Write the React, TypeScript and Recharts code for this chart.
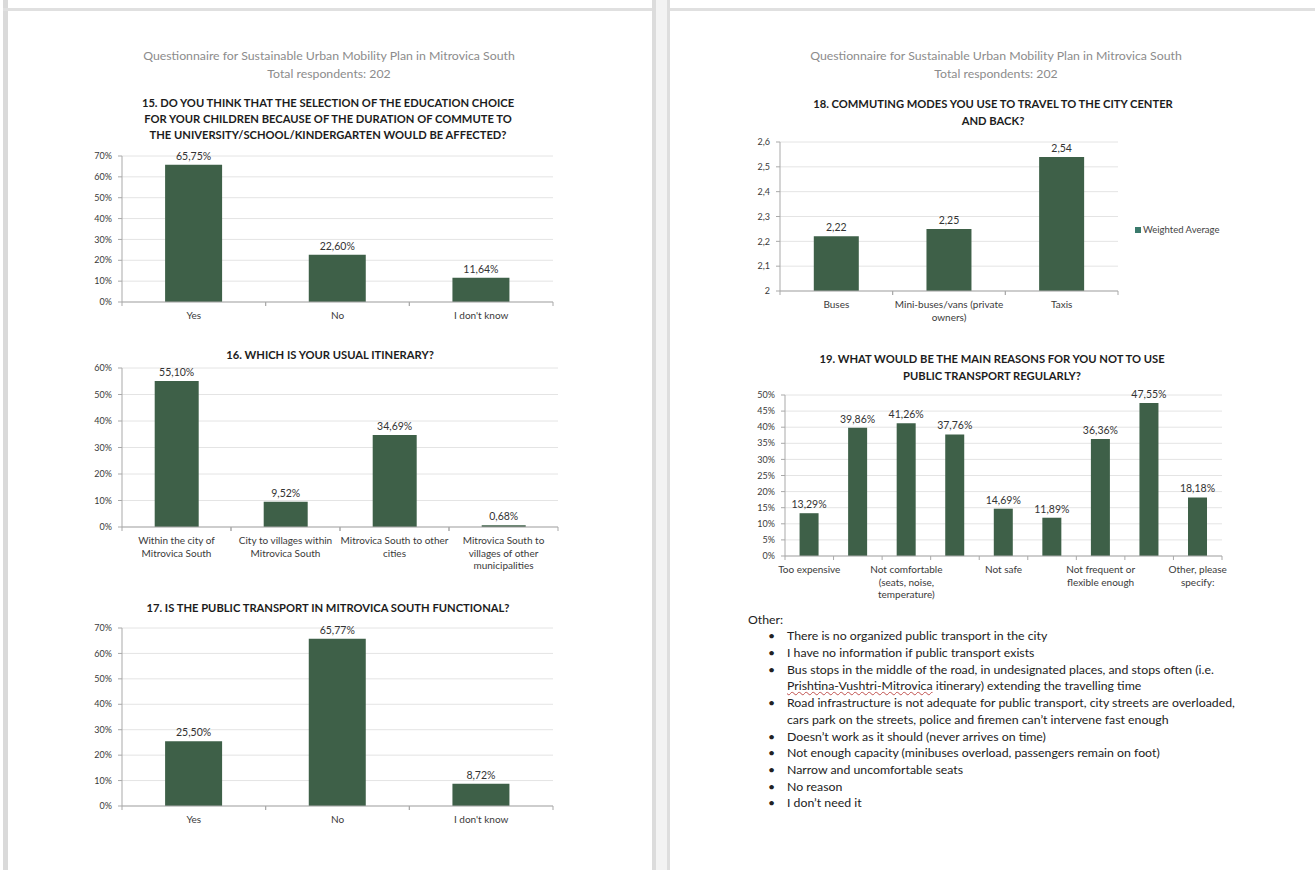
import React from 'react';
import { BarChart, Bar, XAxis, YAxis, CartesianGrid, LabelList, Legend } from 'recharts';

// ---------- DATA ----------
const headerLine1 = 'Questionnaire for Sustainable Urban Mobility Plan in Mitrovica South';
const headerLine2 = 'Total respondents: 202';

const q15Title = [
  '15. DO YOU THINK THAT THE SELECTION OF THE EDUCATION CHOICE',
  'FOR YOUR CHILDREN BECAUSE OF THE DURATION OF COMMUTE TO',
  'THE UNIVERSITY/SCHOOL/KINDERGARTEN WOULD BE AFFECTED?',
];
const q15Categories = ['Yes', 'No', "I don't know"];
const q15Values = [65.75, 22.6, 11.64];

const q16Title = ['16. WHICH IS YOUR USUAL ITINERARY?'];
const q16Categories = [
  'Within the city of\nMitrovica South',
  'City to villages within\nMitrovica South',
  'Mitrovica South to other\ncities',
  'Mitrovica South to\nvillages of other\nmunicipalities',
];
const q16Values = [55.1, 9.52, 34.69, 0.68];

const q17Title = ['17. IS THE PUBLIC TRANSPORT IN MITROVICA SOUTH FUNCTIONAL?'];
const q17Categories = ['Yes', 'No', "I don't know"];
const q17Values = [25.5, 65.77, 8.72];

const q18Title = ['18. COMMUTING MODES YOU USE TO TRAVEL TO THE CITY CENTER', 'AND BACK?'];
const q18Categories = ['Buses', 'Mini-buses/vans (private\nowners)', 'Taxis'];
const q18Values = [2.22, 2.25, 2.54];
const q18SeriesName = 'Weighted Average';

const q19Title = ['19. WHAT WOULD BE THE MAIN REASONS FOR YOU NOT TO USE', 'PUBLIC TRANSPORT REGULARLY?'];
const q19Categories = [
  'Too expensive',
  'Too slow',
  'Not comfortable\n(seats, noise,\ntemperature)',
  'Not reliable',
  'Not safe',
  'Not accessible',
  'Not frequent or\nflexible enough',
  'Too crowded',
  'Other, please\nspecify:',
];
const q19Values = [13.29, 39.86, 41.26, 37.76, 14.69, 11.89, 36.36, 47.55, 18.18];

const ticks0to70 = [0, 10, 20, 30, 40, 50, 60, 70];
const ticks0to60 = [0, 10, 20, 30, 40, 50, 60];
const ticks2to26 = [2, 2.1, 2.2, 2.3, 2.4, 2.5, 2.6];
const ticks0to50 = [0, 5, 10, 15, 20, 25, 30, 35, 40, 45, 50];

const otherLabel = 'Other:';
const otherItems: string[][] = [
  ['There is no organized public transport in the city'],
  ['I have no information if public transport exists'],
  [
    'Bus stops in the middle of the road, in undesignated places, and stops often (i.e.',
    'Prishtina-Vushtri-Mitrovica itinerary) extending the travelling time',
  ],
  [
    'Road infrastructure is not adequate for public transport, city streets are overloaded,',
    'cars park on the streets, police and firemen can\u2019t intervene fast enough',
  ],
  ['Doesn\u2019t work as it should (never arrives on time)'],
  ['Not enough capacity (minibuses overload, passengers remain on foot)'],
  ['Narrow and uncomfortable seats'],
  ['No reason'],
  ['I don\u2019t need it'],
];

// ---------- STYLE ----------
const FONT = 'Lato, "Open Sans", sans-serif';
const BAR = '#3e6048';
const AXIS = '#a9a9a9';
const GRID = '#e4e4e4';
const TICK_FILL = '#3a3a3a';

const pctTick = (v: number) => `${v}%`;
const pctLabel = (v: number) => `${v.toFixed(2).replace('.', ',')}%`;
const decTick = (v: number) => (Number.isInteger(v) ? String(v) : v.toFixed(1).replace('.', ','));
const decLabel = (v: number) => v.toFixed(2).replace('.', ',');

const build = (cats: string[], vals: number[]) => cats.map((name, i) => ({ name, value: vals[i] }));

type ChartProps = {
  cats: string[];
  vals: number[];
  x0: number;
  x1: number;
  y0: number;
  y1: number;
  domain: [number, number];
  ticks: number[];
  fmtTick: (v: number) => string;
  fmtLabel: (v: number) => string;
  interval?: number;
  mr?: number;
  legend?: { name: string; left: number; top: number };
};

function SurveyBar(p: ChartProps) {
  const YW = 50;
  const MT = 20;
  const XH = 50;
  const MR = p.mr ?? 8;
  const left = p.x0 - YW;
  const top = p.y0 - MT;
  const width = p.x1 + MR - left;
  const height = p.y1 - top + XH;
  const band = (p.x1 - p.x0) / p.cats.length;
  const data = build(p.cats, p.vals);

  const Tick = (props: any) => {
    const { x, y, payload } = props;
    const lines = String(payload.value).split('\n');
    return (
      <g>
        <line x1={x - band / 2} x2={x - band / 2} y1={y} y2={y + 4} stroke={AXIS} />
        <line x1={x + band / 2} x2={x + band / 2} y1={y} y2={y + 4} stroke={AXIS} />
        <text x={x} y={y + 17} textAnchor="middle" fontSize={10} fill={TICK_FILL} fontFamily={FONT}>
          {lines.map((l, i) => (
            <tspan key={i} x={x} dy={i === 0 ? 0 : 12.5}>
              {l}
            </tspan>
          ))}
        </text>
      </g>
    );
  };

  return (
    <div style={{ position: 'absolute', left, top }}>
      <BarChart
        width={width}
        height={height}
        data={data}
        margin={{ top: MT, right: MR, left: 0, bottom: 0 }}
        barCategoryGap="30%"
      >
        <CartesianGrid vertical={false} stroke={GRID} />
        <XAxis
          dataKey="name"
          type="category"
          height={XH}
          interval={p.interval ?? 0}
          tickLine={false}
          tickSize={0}
          tickMargin={0}
          axisLine={{ stroke: AXIS }}
          tick={<Tick />}
        />
        <YAxis
          width={YW}
          type="number"
          domain={p.domain}
          ticks={p.ticks}
          interval={0}
          tickFormatter={p.fmtTick}
          tickSize={4}
          tickMargin={6}
          axisLine={{ stroke: AXIS }}
          tickLine={{ stroke: AXIS }}
          tick={{ fontSize: 9, fill: TICK_FILL, fontFamily: FONT }}
        />
        {p.legend && (
          <Legend
            layout="vertical"
            align="center"
            verticalAlign="middle"
            wrapperStyle={{ left: p.legend.left, top: p.legend.top, width: 'auto' }}
            content={() => (
              <div style={{ display: 'flex', alignItems: 'center', fontFamily: FONT, fontSize: 9.5, color: '#444' }}>
                <span style={{ display: 'inline-block', width: 6, height: 6, background: '#3a7a6c', marginRight: 2 }} />
                <span>{p.legend!.name}</span>
              </div>
            )}
          />
        )}
        <Bar dataKey="value" name={p.legend?.name ?? 'value'} fill={BAR} isAnimationActive={false}>
          <LabelList
            dataKey="value"
            position="top"
            offset={5}
            formatter={(v: any) => p.fmtLabel(Number(v))}
            style={{ fontSize: 10.5, fill: '#333', fontFamily: FONT }}
          />
        </Bar>
      </BarChart>
    </div>
  );
}

function CenterText({ lines, cx, firstCenter, lh, size, weight, color, ls }: any) {
  return (
    <div
      style={{
        position: 'absolute',
        left: cx - 300,
        width: 600,
        top: firstCenter - lh / 2,
        textAlign: 'center',
        fontFamily: FONT,
        fontSize: size,
        fontWeight: weight,
        color,
        lineHeight: `${lh}px`,
        letterSpacing: ls ?? 0,
        whiteSpace: 'nowrap',
      }}
    >
      {lines.map((l: string, i: number) => (
        <div key={i}>{l}</div>
      ))}
    </div>
  );
}

export default function App() {
  const LCX = 329;
  const RCX = 994;
  const titleProps = { size: 11.2, weight: 700, color: '#1c1c1c', ls: 0 };
  const headProps = { size: 12.3, weight: 400, color: '#8c8c8c', lh: 18 };

  // bullet list lines
  const FS = 12.3;
  const listTop = 620 - 8.35;
  const LH = 16.7;
  let row = 1;
  const listRows: React.ReactNode[] = [];
  otherItems.forEach((item, k) => {
    item.forEach((line, j) => {
      const t = listTop + row * LH;
      listRows.push(
        <React.Fragment key={`${k}-${j}`}>
          {j === 0 && (
            <div style={{ position: 'absolute', left: 768, top: t, lineHeight: `${LH}px`, fontSize: FS }}>{'\u2022'}</div>
          )}
          <div style={{ position: 'absolute', left: 787, top: t, lineHeight: `${LH}px`, fontSize: FS, whiteSpace: 'nowrap' }}>
            {line.startsWith('Prishtina-Vushtri-Mitrovica') ? (
              <>
                <span style={{ textDecoration: 'underline wavy #c0504d', textDecorationThickness: 1 }}>
                  Prishtina-Vushtri-Mitrovica
                </span>
                {line.slice('Prishtina-Vushtri-Mitrovica'.length)}
              </>
            ) : (
              line
            )}
          </div>
        </React.Fragment>
      );
      row++;
    });
  });

  return (
    <div
      style={{
        position: 'absolute',
        left: 0,
        top: 0,
        width: 1315,
        height: 870,
        background: '#ffffff',
        overflow: 'hidden',
        fontFamily: FONT,
        color: '#222',
      }}
    >
      {/* page frames */}
      <div style={{ position: 'absolute', left: 3, top: 0, width: 5, height: 870, background: '#dadada' }} />
      <div style={{ position: 'absolute', left: 3, top: 8, width: 650, height: 3, background: '#e0e0e0' }} />
      <div style={{ position: 'absolute', left: 652, top: 0, width: 4, height: 870, background: '#dcdcdc' }} />
      <div style={{ position: 'absolute', left: 656, top: 0, width: 11, height: 870, background: '#f3f3f3' }} />
      <div style={{ position: 'absolute', left: 667, top: 0, width: 3, height: 870, background: '#dedede' }} />
      <div style={{ position: 'absolute', left: 670, top: 8, width: 645, height: 3, background: '#e0e0e0' }} />

      {/* left page */}
      <CenterText lines={[headerLine1, headerLine2]} cx={LCX} firstCenter={56} {...headProps} />
      <CenterText lines={q15Title} cx={328} firstCenter={103} lh={16.3} {...titleProps} />
      <SurveyBar
        cats={q15Categories}
        vals={q15Values}
        x0={122}
        x1={553}
        y0={156}
        y1={302}
        domain={[0, 70]}
        ticks={ticks0to70}
        fmtTick={pctTick}
        fmtLabel={pctLabel}
      />

      <CenterText lines={q16Title} cx={330} firstCenter={354} lh={17} {...titleProps} />
      <SurveyBar
        cats={q16Categories}
        vals={q16Values}
        x0={122}
        x1={558}
        y0={368}
        y1={527}
        domain={[0, 60]}
        ticks={ticks0to60}
        fmtTick={pctTick}
        fmtLabel={pctLabel}
      />

      <CenterText lines={q17Title} cx={328} firstCenter={607} lh={17} {...titleProps} />
      <SurveyBar
        cats={q17Categories}
        vals={q17Values}
        x0={122}
        x1={553}
        y0={628}
        y1={806}
        domain={[0, 70]}
        ticks={ticks0to70}
        fmtTick={pctTick}
        fmtLabel={pctLabel}
      />

      {/* right page */}
      <CenterText lines={[headerLine1, headerLine2]} cx={RCX + 2} firstCenter={56} {...headProps} />
      <CenterText lines={q18Title} cx={993} firstCenter={103} lh={17} {...titleProps} />
      <SurveyBar
        cats={q18Categories}
        vals={q18Values}
        x0={780}
        x1={1118}
        y0={142}
        y1={291}
        domain={[2, 2.6]}
        ticks={ticks2to26}
        fmtTick={decTick}
        fmtLabel={decLabel}
        mr={120}
        legend={{ name: q18SeriesName, left: 1135 - 730, top: 224 - 122 }}
      />

      <CenterText lines={q19Title} cx={992} firstCenter={358} lh={17} {...titleProps} />
      <SurveyBar
        cats={q19Categories}
        vals={q19Values}
        x0={785}
        x1={1222}
        y0={395}
        y1={556}
        domain={[0, 50]}
        ticks={ticks0to50}
        fmtTick={pctTick}
        fmtLabel={pctLabel}
        interval={1}
      />

      {/* other reasons list */}
      <div style={{ position: 'absolute', left: 0, top: 0, color: '#222', fontFamily: FONT }}>
        <div style={{ position: 'absolute', left: 748, top: listTop, lineHeight: `${LH}px`, fontSize: FS }}>{otherLabel}</div>
        {listRows}
      </div>
    </div>
  );
}
